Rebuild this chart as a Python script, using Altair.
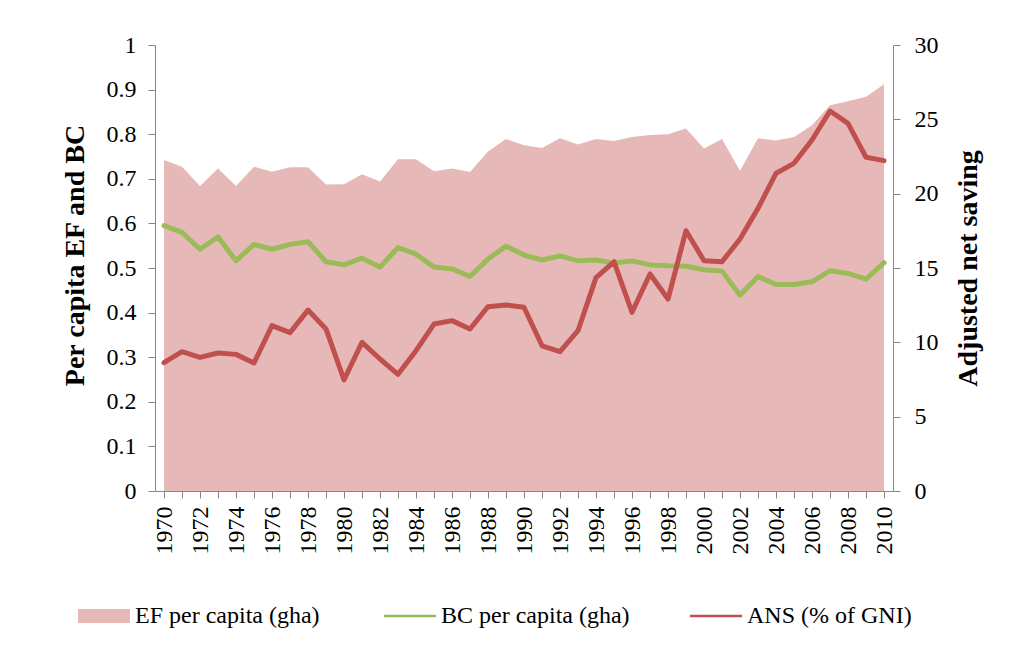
import altair as alt
import pandas as pd

years = list(range(1970, 2011))
ef = [0.742, 0.727, 0.684, 0.723, 0.684, 0.727, 0.716, 0.726, 0.726, 0.687,
      0.688, 0.710, 0.694, 0.744, 0.744, 0.717, 0.723, 0.715, 0.761, 0.789,
      0.775, 0.769, 0.791, 0.777, 0.789, 0.785, 0.794, 0.798, 0.800, 0.813,
      0.768, 0.789, 0.718, 0.791, 0.786, 0.794, 0.820, 0.865, 0.874, 0.884,
      0.912]
bc = [0.595, 0.580, 0.542, 0.570, 0.516, 0.553, 0.542, 0.553, 0.559, 0.514,
      0.507, 0.522, 0.502, 0.546, 0.531, 0.502, 0.498, 0.481, 0.520, 0.549,
      0.529, 0.518, 0.527, 0.516, 0.518, 0.511, 0.516, 0.507, 0.505, 0.504,
      0.496, 0.493, 0.439, 0.481, 0.463, 0.463, 0.469, 0.494, 0.488, 0.475,
      0.512]
ans = [8.63, 9.37, 8.99, 9.28, 9.19, 8.61, 11.12, 10.65, 12.17, 10.90,
       7.47, 10.00, 8.88, 7.85, 9.44, 11.23, 11.46, 10.90, 12.40, 12.51,
       12.36, 9.77, 9.37, 10.78, 14.35, 15.42, 12.02, 14.60, 12.91, 17.51,
       15.49, 15.42, 16.95, 19.01, 21.37, 22.04, 23.61, 25.56, 24.73, 22.45,
       22.22]

series = ["EF per capita (gha)", "BC per capita (gha)", "ANS (% of GNI)"]
series_colors = ["#E6B9B8", "#9BBB59", "#C0504D"]
series_shapes = ["M-1,-0.27H1V0.27H-1Z", "M-1,-0.05H1V0.05H-1Z", "M-1,-0.05H1V0.05H-1Z"]

df = pd.DataFrame({"Year": years, "EF": ef, "BC": bc, "ANS": ans})
legend_df = pd.DataFrame({"series": series})

FONT = "'Liberation Serif', 'Times New Roman', 'DejaVu Serif', serif"
GRAY = "#868686"

x_ticks_axis = alt.Axis(bandPosition=0, labels=False, ticks=True, tickSize=7,
                        tickColor=GRAY, domainColor=GRAY, title=None, orient="bottom",
                        grid=False)
x_label_axis = alt.Axis(bandPosition=0.5, ticks=False, domain=False, labels=True,
                        labelAngle=270, labelAlign="right", labelBaseline="middle",
                        labelPadding=15, labelOverlap=False, labelFlush=False,
                        labelExpr="datum.value % 2 == 0 ? datum.label : ''",
                        labelFont=FONT, labelFontSize=24, labelColor="black",
                        title=None, orient="bottom", grid=False)

x_scale = alt.Scale(paddingInner=0, paddingOuter=0)

area = alt.Chart(df).mark_area(color="#E6B9B8", opacity=1).encode(
    x=alt.X("Year:O", scale=x_scale, axis=x_ticks_axis),
    y=alt.Y("EF:Q", scale=alt.Scale(domain=[0, 1], nice=False),
            axis=alt.Axis(values=[i / 10 for i in range(11)], format="~g",
                          orient="left", grid=False, tickSize=7, tickColor=GRAY,
                          domainColor=GRAY, labelPadding=12, labelFont=FONT,
                          labelFontSize=24, labelColor="black",
                          title="Per capita EF and BC", titleFont=FONT,
                          titleFontSize=28, titleFontWeight="bold",
                          titleColor="black", titleAngle=270, titleX=-80,
                          titleY=210, titleAlign="center", titleBaseline="middle")),
)

green = alt.Chart(df).mark_line(color="#9BBB59", strokeWidth=5, strokeJoin="round",
                                strokeCap="round").encode(
    x=alt.X("Year:O", scale=x_scale, axis=None),
    y=alt.Y("BC:Q", scale=alt.Scale(domain=[0, 1], nice=False), axis=None),
)

red = alt.Chart(df).mark_line(color="#C0504D", strokeWidth=5, strokeJoin="round",
                              strokeCap="round").encode(
    x=alt.X("Year:O", scale=x_scale, axis=x_label_axis),
    y=alt.Y("ANS:Q", scale=alt.Scale(domain=[0, 30], nice=False),
            axis=alt.Axis(values=list(range(0, 31, 5)), orient="right", grid=False,
                          tickSize=7, tickColor=GRAY, domainColor=GRAY,
                          labelPadding=14, labelFont=FONT, labelFontSize=24,
                          labelColor="black", title="Adjusted net saving",
                          titleFont=FONT, titleFontSize=28, titleFontWeight="bold",
                          titleColor="black", titleAngle=270, titleX=75,
                          titleY=223, titleAlign="center", titleBaseline="middle")),
)

legend_layer = alt.Chart(legend_df).mark_point(filled=True, opacity=1, strokeWidth=0).encode(
    color=alt.Color("series:N",
                    scale=alt.Scale(domain=series, range=series_colors),
                    legend=alt.Legend(orient="none", legendX=-77, legendY=545,
                                      direction="horizontal", title=None,
                                      symbolSize=2704, symbolStrokeWidth=0,
                                      symbolOpacity=1,
                                      labelFont=FONT, labelFontSize=24,
                                      labelColor="black", labelLimit=0,
                                      labelOffset=5, columnPadding=60,
                                      gridAlign="all")),
    shape=alt.Shape("series:N",
                    scale=alt.Scale(domain=series, range=series_shapes),
                    legend=None),
).transform_filter("false")

chart = alt.layer(area, green, red, legend_layer).resolve_scale(
    y="independent"
).resolve_axis(
    x="independent", y="independent"
).properties(
    width=738, height=446,
    autosize=alt.AutoSizeParams(type="none"),
    padding={"left": 147, "top": 37, "right": 115, "bottom": 160},
).configure_view(stroke=None)

chart.save("out.html", embed_options={"renderer": "svg", "actions": False})
